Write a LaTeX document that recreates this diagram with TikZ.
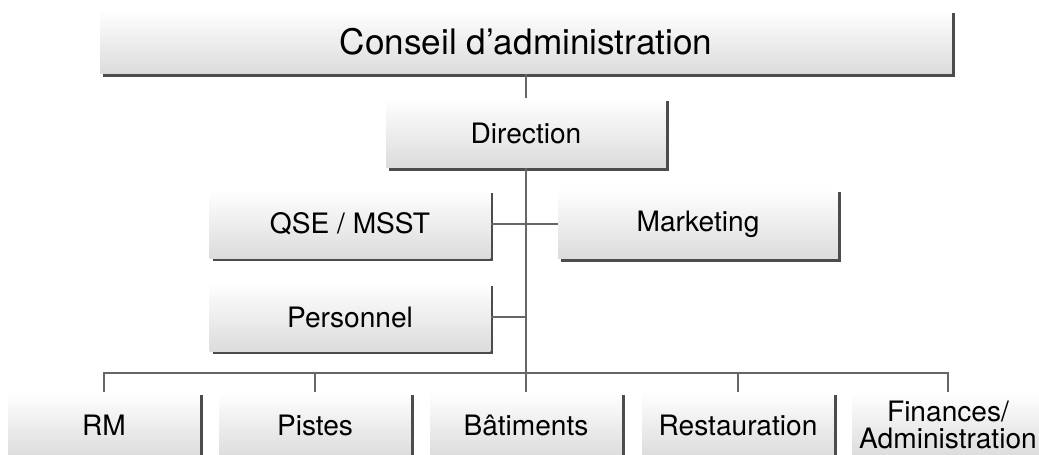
\documentclass[tikz,border=0pt]{standalone}
\usepackage{fontspec}
\setmainfont{TeX Gyre Heros}
\usetikzlibrary{shadows}
\tikzset{mbox/.style={shade,top color=white,bottom color=black!14,inner sep=1pt,align=center,font=\fontsize{16}{15}\selectfont,drop shadow={shadow xshift=0.06cm,shadow yshift=-0.06cm,fill=black!70,opacity=1}}}
\tikzset{mline/.style={draw=black!60,line width=1.1pt}}

\begin{document}
\begin{tikzpicture}[x=0.02cm,y=-0.02cm]
\useasboundingbox (0,0) rectangle (1039,455);
\node[mbox,minimum width=17.04cm,minimum height=1.28cm,font=\fontsize{20}{24}\selectfont] (conseil) at (526,42) {Conseil d’administration};
\node[mbox,minimum width=5.6cm,minimum height=1.4cm] (direction) at (526,133) {Direction};

\node[mbox,minimum width=5.62cm,minimum height=1.38cm] (qse) at (350,224) {QSE / MSST};
\node[mbox,minimum width=5.6cm,minimum height=1.4cm] (marketing) at (698,224) {Marketing};
\node[mbox,minimum width=5.62cm,minimum height=1.38cm] (personnel) at (350,317) {Personnel};

\node[mbox,minimum width=3.84cm,minimum height=1.32cm] (rm) at (104,425) {RM};
\node[mbox,minimum width=3.84cm,minimum height=1.32cm] (pistes) at (315,425) {Pistes};
\node[mbox,minimum width=3.84cm,minimum height=1.32cm] (bat) at (526,425) {Bâtiments};
\node[mbox,minimum width=3.84cm,minimum height=1.32cm] (resto) at (738,425) {Restauration};
\node[mbox,minimum width=3.84cm,minimum height=1.32cm] (fin) at (948,425) {Finances/\\Administration};

\coordinate (bar) at (526,373);
\draw[mline] (conseil) -- (direction);
\draw[mline] (direction) -- (bar);
\draw[mline] (qse) -- (marketing);
\draw[mline] (personnel.east) -- (personnel.east -| bar);
\draw[mline] (rm.north) -- (rm.north |- bar) -- (fin.north |- bar) -- (fin.north);
\foreach \n in {pistes,bat,resto} \draw[mline] (\n.north |- bar) -- (\n.north);

\end{tikzpicture}
\end{document}
